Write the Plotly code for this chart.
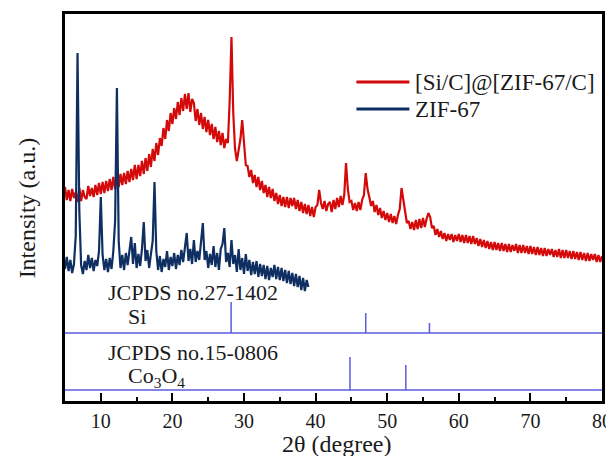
import numpy as np
import plotly.graph_objects as go

# ---------------- data ----------------
# 2-theta grid, 0.25 degree step
red_start, red_step = 5.0, 0.25
red_intensity = [
    214, 201, 211, 200,  212, 203, 209, 199,  213, 200, 211, 204,  202, 215, 205, 213,
    204, 216, 206, 218,  207, 219, 208, 220,  210, 222, 211, 224,  212, 225, 214, 227,
    216, 228, 217, 230,  219, 232, 221, 236,  222, 236, 225, 240,  227, 243, 230, 247,
    234, 252, 240, 258,  246, 263, 255, 273,  262, 281, 270, 288,  277, 293, 282, 299,
    286, 303, 290, 307,  292, 308, 289, 302,  298, 280, 292, 276,  288, 272, 284, 269,
    281, 266, 277, 262,  274, 259, 270, 256,  268, 253, 262, 258,  300, 364, 288, 252,
    240, 251, 262, 281,  255, 236, 235, 224,  231, 218, 226, 214,  224, 211, 220, 208,
    216, 204, 214, 203,  212, 200, 208, 197,  206, 195, 204, 194,  204, 193, 203, 195,
    203, 192, 201, 190,  199, 188, 197, 187,  196, 185, 194, 184,  194, 196, 211, 198,
    192, 200, 190, 197,  199, 189, 201, 192,  203, 194, 205, 196,  206, 238, 212, 199,
    200, 191, 198, 190,  199, 191, 201, 206,  228, 212, 204, 195,  200, 189, 196, 186,
    193, 183, 190, 181,  188, 179, 187, 178,  185, 177, 186, 192,  213, 200, 186, 178,
    180, 172, 179, 171,  181, 172, 182, 173,  183, 174, 182, 188,  184, 173, 175, 166,
    172, 164, 170, 162,  168, 160, 167, 161,  167, 159, 166, 160,  167, 159, 166, 158,
    166, 158, 165, 157,  165, 157, 163, 155,  162, 154, 161, 153,  160, 152, 159, 151,
    159, 151, 158, 150,  158, 150, 157, 149,  157, 149, 156, 150,  157, 148, 156, 148,
    156, 148, 155, 147,  155, 147, 154, 146,  154, 146, 153, 145,  153, 145, 152, 146,
    152, 144, 151, 144,  152, 143, 151, 143,  151, 143, 150, 142,  150, 142, 149, 141,
    149, 141, 148, 140,  148, 140, 147, 141,  147, 139, 146, 139,  145,
]

navy_start, navy_step = 5.0, 0.25
navy_intensity = [
    132, 144, 130, 141,  128, 137, 165, 348,  190, 136, 127, 140,  131, 146, 133, 143,
    130, 141, 135, 150,  204, 146, 131, 142,  129, 143, 132, 150,  180, 313, 160, 133,
    146, 131, 148, 136,  150, 164, 137, 158,  133, 147, 135, 152,  179, 140, 151, 133,
    147, 160, 219, 150,  131, 145, 129, 142,  134, 150, 131, 144,  135, 148, 132, 146,
    136, 151, 139, 155,  168, 140, 152, 137,  161, 139, 150, 141,  158, 178, 141, 150,
    133, 147, 136, 155,  134, 148, 131, 152,  157, 173, 139, 148,  134, 161, 137, 146,
    129, 152, 131, 143,  127, 147, 130, 141,  126, 139, 127, 140,  124, 137, 125, 136,
    122, 135, 121, 133,  124, 136, 122, 134,  121, 133, 120, 131,  118, 130, 117, 128,
    115, 127, 114, 125,  111, 123, 110, 121,  114,
]

si_label = "JCPDS no.27-1402"
si_name = "Si"
si_peaks = [28.2, 47.0, 55.9]
si_heights = [31, 20, 10]
si_base = 68

co_label = "JCPDS no.15-0806"
co_name = "Co<sub>3</sub>O<sub>4</sub>"
co_peaks = [44.8, 52.6]
co_heights = [33, 25]
co_base = 11

series_names = ["[Si/C]@[ZIF-67/C]", "ZIF-67"]
x_ticks = [10, 20, 30, 40, 50, 60, 70, 80]
x_title = "2θ (degree)"
y_title = "Intensity (a.u.)"

# ---------------- figure ----------------
RED = "#d40a0a"
NAVY = "#0f2f63"
STICK = "#5a5ae0"
FONT = "Liberation Serif, Times New Roman, serif"
TXT = "#1a1a1a"

red_x = red_start + red_step * np.arange(len(red_intensity))
navy_x = navy_start + navy_step * np.arange(len(navy_intensity))

fig = go.Figure()
fig.add_trace(go.Scatter(x=red_x, y=red_intensity, mode="lines",
                         line=dict(color=RED, width=2.2), name=series_names[0],
                         showlegend=False))
fig.add_trace(go.Scatter(x=navy_x, y=navy_intensity, mode="lines",
                         line=dict(color=NAVY, width=2.2), name=series_names[1],
                         showlegend=False))


def sticks(peaks, heights, base):
    xs, ys = [5, 80, None], [base, base, None]
    for p, h in zip(peaks, heights):
        xs += [p, p, None]
        ys += [base, base + h, None]
    return xs, ys


for peaks, heights, base in [(si_peaks, si_heights, si_base), (co_peaks, co_heights, co_base)]:
    xs, ys = sticks(peaks, heights, base)
    fig.add_trace(go.Scatter(x=xs, y=ys, mode="lines", line=dict(color=STICK, width=1.5),
                             showlegend=False, hoverinfo="skip"))

annots = [
    dict(x=10.8, y=109, text=si_label),
    dict(x=13.7, y=85, text=si_name),
    dict(x=10.8, y=49, text=co_label),
    dict(x=13.7, y=24, text=co_name),
]
for a in annots:
    fig.add_annotation(x=a["x"], y=a["y"], text=a["text"], xanchor="left",
                       yanchor="middle", showarrow=False, borderpad=0,
                       font=dict(family=FONT, size=22, color=TXT))

# manual legend
leg = [(series_names[0], RED, 319), (series_names[1], NAVY, 292)]
for name, col, yy in leg:
    fig.add_shape(type="line", x0=45.7, x1=53.1, y0=yy, y1=yy, xref="x", yref="y",
                  line=dict(color=col, width=3))
    fig.add_annotation(x=53.8, y=yy, text=name, xanchor="left", yanchor="middle",
                       showarrow=False, borderpad=0,
                       font=dict(family=FONT, size=23, color=TXT))

# axis titles as annotations (exact placement)
fig.add_annotation(x=0.505, y=-0.111, xref="paper", yref="paper", text=x_title,
                   showarrow=False, xanchor="center", yanchor="middle", borderpad=0,
                   font=dict(family=FONT, size=24, color=TXT))
fig.add_annotation(x=-0.071, y=0.5, xref="paper", yref="paper", text=y_title,
                   textangle=-90, showarrow=False, xanchor="center", yanchor="middle",
                   borderpad=0, font=dict(family=FONT, size=24, color=TXT))

fig.update_xaxes(range=[5, 80], tickvals=x_ticks, ticks="inside", ticklen=8, tickwidth=2,
                 tickcolor="black", showline=True, linecolor="black", linewidth=2.5,
                 mirror=True, showgrid=False, zeroline=False, automargin=False,
                 minor=dict(ticks="inside", ticklen=4, tickwidth=2, tickcolor="black",
                            tickvals=[5, 15, 25, 35, 45, 55, 65, 75]),
                 tickfont=dict(family=FONT, size=20, color=TXT))
fig.update_yaxes(range=[0, 387], showticklabels=False, ticks="", showline=True,
                 linecolor="black", linewidth=2.5, mirror=True, showgrid=False,
                 zeroline=False, automargin=False)
# page body keeps an 8px default margin, so the figure is sized to fit after it
fig.update_layout(width=606, height=448, margin=dict(l=57, r=12, t=6, b=55),
                  plot_bgcolor="white", paper_bgcolor="white")
fig.write_html("out.html")
